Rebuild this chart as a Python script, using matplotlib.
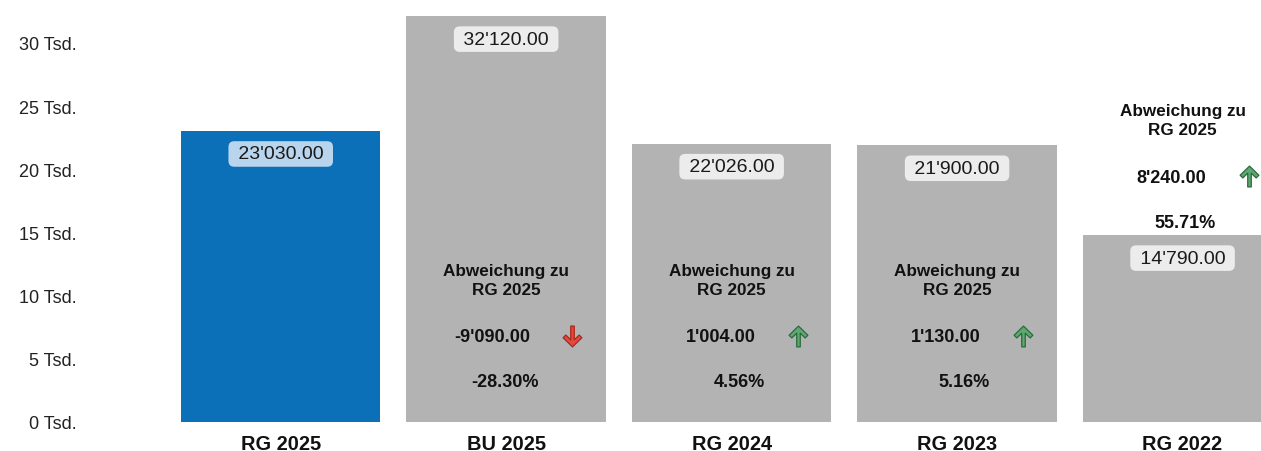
import numpy as np
import matplotlib.pyplot as plt
from matplotlib.path import Path
from matplotlib.transforms import ScaledTranslation

plt.rcParams['font.family'] = ['Liberation Sans', 'DejaVu Sans']

categories = ['RG 2025', 'BU 2025', 'RG 2024', 'RG 2023', 'RG 2022']
values = [23030, 32120, 22026, 21900, 14790]
reference = 'RG 2025'
ref_value = values[0]

bar_colors = ['#0b70b8', '#b3b3b3', '#b3b3b3', '#b3b3b3', '#b3b3b3']
box_colors = ['#b9d5ee', '#ececec', '#ececec', '#ececec', '#ececec']


def fmt(v):
    # Schweizer Tausendertrennzeichen
    return f'{v:,.2f}'.replace(',', "'")


# Pfeil als Marker (Spitze nach oben)
arrow_pts = [(0, 1), (0.9, 0.12), (0.64, -0.14), (0.17, 0.32), (0.17, -1),
             (-0.17, -1), (-0.17, 0.32), (-0.64, -0.14), (-0.9, 0.12), (0, 1)]
arrow_up = Path(arrow_pts, closed=True)
arrow_down = Path([(px, -py) for px, py in arrow_pts], closed=True)

fig = plt.figure(figsize=(12.61, 4.52), dpi=100)
ax = fig.add_axes([168 / 1261, 29 / 452, 1 - 168 / 1261, (423 - 6) / 452])

x = np.arange(len(categories))
ax.bar(x, values, width=0.885, color=bar_colors)
ax.set_xlim(-0.5, 4.348)
ax.set_ylim(0, 33000)

ax.set_yticks(np.arange(0, 30001, 5000))
ax.set_yticklabels([f'{int(t / 1000)} Tsd.' for t in np.arange(0, 30001, 5000)])
ax.set_xticks(x)
ax.set_xticklabels(categories, fontweight='bold')
ax.tick_params(axis='y', length=0, pad=66, labelsize=13, labelcolor='#222222')
ax.tick_params(axis='x', length=0, pad=9, labelsize=14.4, labelcolor='#111111')
for s in ax.spines.values():
    s.set_visible(False)

px = 1 / fig.dpi
for i, v in enumerate(values):
    ax.annotate(f' {fmt(v)} ', (x[i], v), xytext=(0, -23), textcoords='offset pixels',
                ha='center', va='center', fontsize=14, color='#1a1a1a',
                bbox=dict(boxstyle='round,pad=0.22,rounding_size=0.3',
                          fc=box_colors[i], ec='none'))
    if i == 0:
        continue
    diff = ref_value - v
    pct = diff / v * 100
    if v > 20000:
        y0, off = 0, 40
    else:
        y0, off = v, 13
    ax.annotate(f'Abweichung zu\n{reference}', (x[i], y0), xytext=(0, off + 102),
                textcoords='offset pixels', ha='center', va='center',
                fontsize=12.3, fontweight='bold', color='#111111', linespacing=1.3)
    ax.annotate(fmt(diff), (x[i], y0), xytext=(24, off + 45),
                textcoords='offset pixels', ha='right', va='center',
                fontsize=13, fontweight='bold', color='#111111')
    ax.annotate(f'{pct:.2f}%', (x[i], y0), xytext=(33, off),
                textcoords='offset pixels', ha='right', va='center',
                fontsize=13, fontweight='bold', color='#111111')
    if diff < 0:
        mk, fc, ec = arrow_down, '#e34a3b', '#a8281c'
    else:
        mk, fc, ec = arrow_up, '#5ea872', '#2b6a3c'
    tr = ax.transData + ScaledTranslation(66 * px, (off + 46) * px, fig.dpi_scale_trans)
    ax.plot([x[i]], [y0], marker=mk, markersize=15, color=fc, markeredgecolor=ec,
            markeredgewidth=0.9, transform=tr, clip_on=False)

fig.savefig('out.png', dpi=100)
